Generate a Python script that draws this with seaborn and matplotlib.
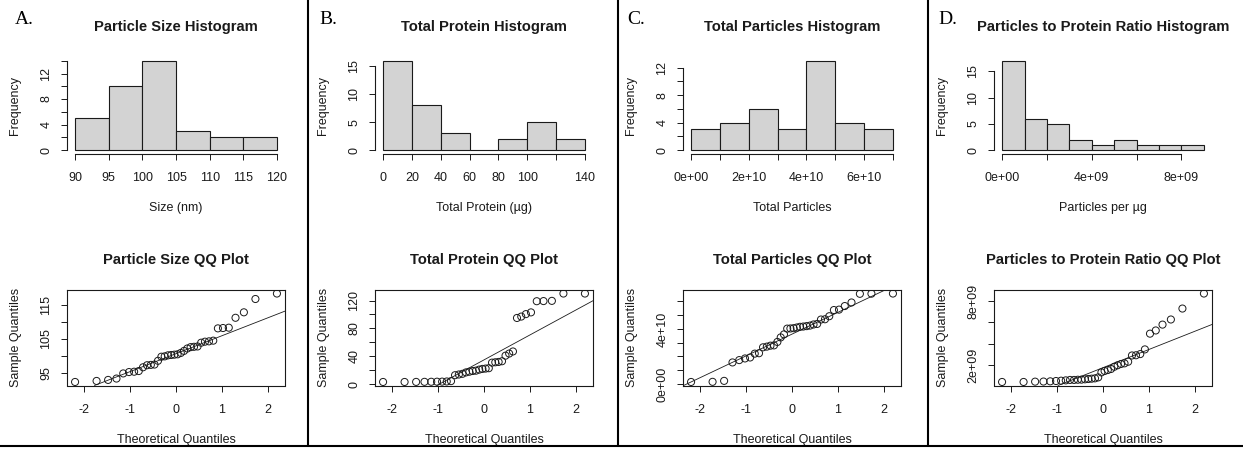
import numpy as np
import seaborn as sns
import matplotlib
matplotlib.use("Agg")
import matplotlib.pyplot as plt
from matplotlib.lines import Line2D
from statistics import NormalDist

# ---- measurements, one value per sample (n = 36), sorted ascending ----
particle_size_nm = [
    92.4, 92.7, 93.0, 93.4, 94.9, 95.3, 95.4, 95.6, 96.7, 97.3, 97.4, 97.5,
    98.6, 99.8, 99.9, 100.2, 100.3, 100.4, 100.5, 100.9, 101.5, 102.2, 102.6,
    102.7, 102.8, 103.9, 104.2, 104.3, 104.5, 108.1, 108.2, 108.3, 111.2,
    112.8, 116.7, 118.3,
]
total_protein_ug = [
    3.3, 3.3, 3.4, 3.5, 3.6, 3.7, 3.8, 4.0, 4.5, 13.0, 14.0, 15.0, 17.0, 18.0,
    19.0, 19.5, 21.0, 22.0, 22.5, 23.0, 31.0, 31.5, 32.0, 33.0, 41.0, 44.0,
    47.0, 95.0, 97.0, 100.5, 103.0, 119.0, 119.2, 119.5, 130.0, 130.0,
]
total_particles = [
    0.14e10, 0.15e10, 0.22e10, 1.56e10, 1.73e10, 1.85e10, 1.92e10, 2.20e10,
    2.23e10, 2.66e10, 2.71e10, 2.78e10, 2.80e10, 3.05e10, 3.38e10, 3.60e10,
    4.02e10, 4.03e10, 4.05e10, 4.10e10, 4.15e10, 4.17e10, 4.20e10, 4.24e10,
    4.32e10, 4.36e10, 4.68e10, 4.70e10, 4.92e10, 5.37e10, 5.40e10, 5.66e10,
    5.92e10, 6.55e10, 6.56e10, 6.57e10,
]
particles_per_ug = [
    0.41e9, 0.41e9, 0.44e9, 0.45e9, 0.47e9, 0.50e9, 0.53e9, 0.56e9, 0.60e9,
    0.60e9, 0.62e9, 0.63e9, 0.66e9, 0.69e9, 0.72e9, 0.75e9, 0.84e9, 1.31e9,
    1.44e9, 1.53e9, 1.63e9, 1.84e9, 1.98e9, 2.10e9, 2.16e9, 2.31e9, 2.90e9,
    2.92e9, 3.03e9, 3.47e9, 4.95e9, 5.25e9, 5.80e9, 6.28e9, 7.31e9, 8.72e9,
]

panel_letters = ["A.", "B.", "C.", "D."]
hist_titles = ["Particle Size Histogram", "Total Protein Histogram",
               "Total Particles Histogram", "Particles to Protein Ratio Histogram"]
qq_titles = ["Particle Size QQ Plot", "Total Protein QQ Plot",
             "Total Particles QQ Plot", "Particles to Protein Ratio QQ Plot"]
hist_xlabels = ["Size (nm)", "Total Protein (\u00b5g)", "Total Particles",
                "Particles per \u00b5g"]


def sci(v):
    return f"{v:.0e}"


def plain(v):
    return f"{v:g}"


# axis settings for each variable: bin edges, tick positions, which ticks get labels
panels = [
    dict(data=particle_size_nm, bins=np.arange(90, 121, 5),
         hx=np.arange(90, 121, 5), hx_lab=[90, 95, 100, 105, 110, 115, 120],
         hy=np.arange(0, 15, 2), hy_lab=[0, 4, 8, 12],
         qy=[95, 100, 105, 110, 115], qy_lab=[95, 105, 115], fmt=plain),
    dict(data=total_protein_ug, bins=np.arange(0, 141, 20),
         hx=np.arange(0, 141, 20), hx_lab=[0, 20, 40, 60, 80, 100, 140],
         hy=[0, 5, 10, 15], hy_lab=[0, 5, 10, 15],
         qy=np.arange(0, 121, 20), qy_lab=[0, 40, 80, 120], fmt=plain),
    dict(data=total_particles, bins=np.arange(0, 7.01e10, 1e10),
         hx=np.arange(0, 7.01e10, 1e10), hx_lab=[0, 2e10, 4e10, 6e10],
         hy=np.arange(0, 13, 2), hy_lab=[0, 4, 8, 12],
         qy=np.arange(0, 6.01e10, 1e10), qy_lab=[0, 4e10], fmt=sci),
    dict(data=particles_per_ug, bins=np.arange(0, 9.01e9, 1e9),
         hx=np.arange(0, 8.01e9, 2e9), hx_lab=[0, 4e9, 8e9],
         hy=[0, 5, 10, 15], hy_lab=[0, 5, 10, 15],
         qy=[2e9, 4e9, 6e9, 8e9], qy_lab=[2e9, 8e9], fmt=sci),
]

sns.set_theme(style="white")
plt.rcParams["font.family"] = ["Liberation Sans", "DejaVu Sans"]
plt.rcParams["axes.linewidth"] = 0.7

W, H = 1243, 449
fig = plt.figure(figsize=(W / 100, H / 100), dpi=100)

BASE = 9.0
TITLE = 10.6
INK = "#1a1a1a"


def box(x0, y0, x1, y1):
    return [x0 / W, 1 - y1 / H, (x1 - x0) / W, (y1 - y0) / H]


def labelled(ticks, shown, fmt):
    out = []
    for t in ticks:
        hit = any(abs(t - s) <= 1e-9 * max(1.0, abs(s)) for s in shown)
        out.append(fmt(t) if hit else "")
    return out


def style_ticks(ax):
    ax.tick_params(axis="both", which="both", direction="out", length=4.5,
                   width=0.7, color=INK, labelsize=BASE, labelcolor=INK)
    ax.tick_params(axis="x", pad=8.5, bottom=True, left=False)
    ax.tick_params(axis="y", pad=6.0, left=True, bottom=False)
    for lab in ax.get_yticklabels():
        lab.set_rotation(90)
        lab.set_va("center")


def padded(lo, hi):
    pad = 0.04 * (hi - lo)
    return lo - pad, hi + pad


col_x = [0, 308, 616, 927]
plot_w = 218

for i, p in enumerate(panels):
    left = col_x[i] + 67
    values = np.asarray(p["data"], dtype=float)
    xc = left + plot_w / 2

    # ---------------- histogram ----------------
    ax = fig.add_axes(box(left, 57.2, left + plot_w, 153.6))
    sns.histplot(x=values, bins=p["bins"], ax=ax, color="#d3d3d3",
                 edgecolor=INK, linewidth=0.8, alpha=1.0)
    counts, _ = np.histogram(values, bins=p["bins"])
    ax.set_xlim(*padded(p["bins"][0], p["bins"][-1]))
    ax.set_ylim(*padded(0, counts.max()))
    ax.set_xticks(p["hx"])
    ax.set_xticklabels(labelled(p["hx"], p["hx_lab"], p["fmt"]))
    ax.set_yticks(p["hy"])
    ax.set_yticklabels(labelled(p["hy"], p["hy_lab"], plain))
    for side in ("top", "right"):
        ax.spines[side].set_visible(False)
    ax.spines["left"].set_bounds(p["hy"][0], p["hy"][-1])
    ax.spines["bottom"].set_bounds(p["hx"][0], p["hx"][-1])
    for side in ("left", "bottom"):
        ax.spines[side].set_color(INK)
        ax.spines[side].set_linewidth(0.8)
    style_ticks(ax)
    ax.set_xlabel(hist_xlabels[i], fontsize=BASE, color=INK, labelpad=13.0)
    ax.set_ylabel("Frequency", fontsize=BASE, color=INK, labelpad=14.0)
    fig.text(xc / W, 1 - 31 / H, hist_titles[i], ha="center", va="baseline",
             fontsize=TITLE, fontweight="bold", color=INK)

    # ---------------- normal QQ plot ----------------
    n = len(values)
    nd = NormalDist()
    theo = np.array([nd.inv_cdf((k - 0.5) / n) for k in range(1, n + 1)])
    sample = np.sort(values)
    qax = fig.add_axes(box(left, 290.0, left + plot_w, 385.5))
    sns.scatterplot(x=theo, y=sample, ax=qax, marker="o", s=26,
                    facecolors="none", edgecolor=INK, linewidth=0.7)
    q1, q3 = np.quantile(sample, [0.25, 0.75])
    t1, t3 = nd.inv_cdf(0.25), nd.inv_cdf(0.75)
    qax.axline((t1, q1), (t3, q3), color=INK, linewidth=0.6)
    qax.set_xlim(*padded(theo.min(), theo.max()))
    qax.set_ylim(*padded(sample.min(), sample.max()))
    qax.set_xticks([-2, -1, 0, 1, 2])
    qax.set_xticklabels(["-2", "-1", "0", "1", "2"])
    qax.set_yticks(p["qy"])
    qax.set_yticklabels(labelled(p["qy"], p["qy_lab"], p["fmt"]))
    for sp in qax.spines.values():
        sp.set_visible(True)
        sp.set_color(INK)
        sp.set_linewidth(0.8)
    style_ticks(qax)
    qax.set_xlabel("Theoretical Quantiles", fontsize=BASE, color=INK,
                   labelpad=13.5)
    qax.set_ylabel("Sample Quantiles", fontsize=BASE, color=INK, labelpad=13.5)
    fig.text(xc / W, 1 - 264 / H, qq_titles[i], ha="center", va="baseline",
             fontsize=TITLE, fontweight="bold", color=INK)

    # panel letter
    fig.text((col_x[i] + (15 if i == 0 else 11)) / W, 1 - 24 / H,
             panel_letters[i], ha="left", va="baseline", fontsize=14,
             family=["Liberation Serif", "DejaVu Serif"], color="black")

# column separators and bottom rule
for x in (307.5, 617.5, 927.5):
    fig.add_artist(Line2D([x / W, x / W], [1 - 446 / H, 1.0], color="black",
                          linewidth=1.5))
fig.add_artist(Line2D([0, 1], [1 - 446 / H, 1 - 446 / H], color="black",
                      linewidth=1.5))

fig.savefig("out.png", dpi=100, facecolor="white")
